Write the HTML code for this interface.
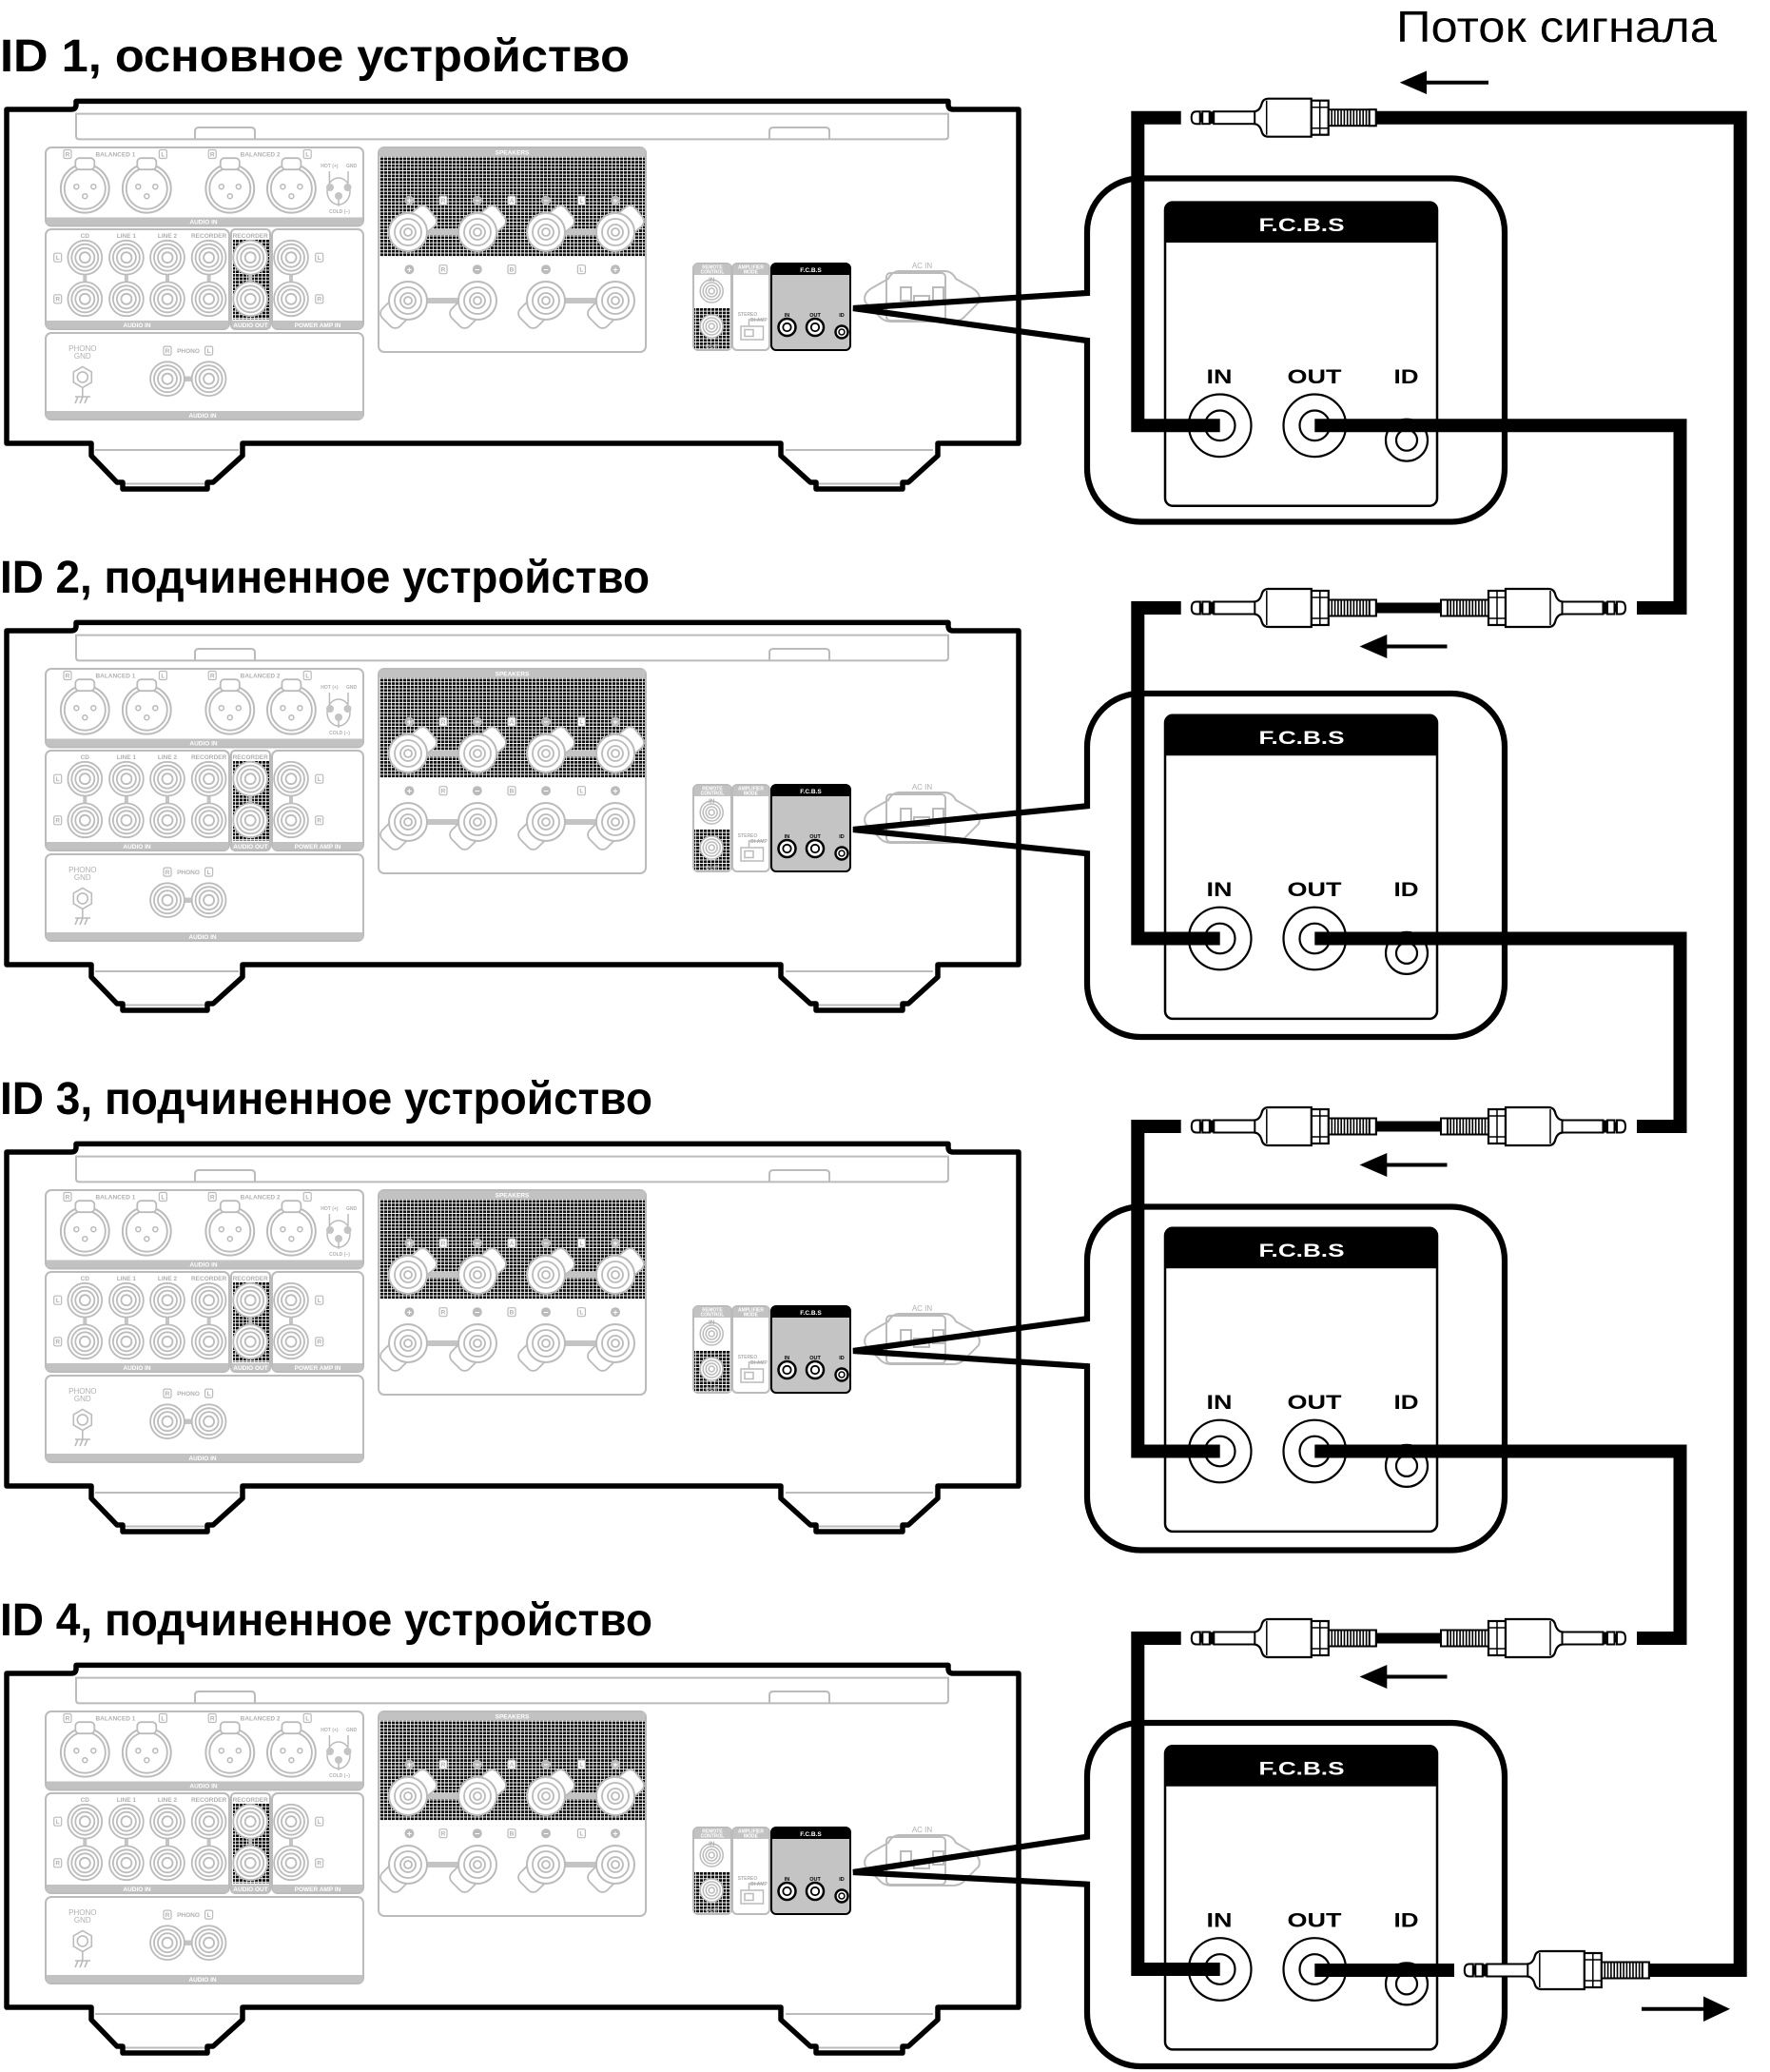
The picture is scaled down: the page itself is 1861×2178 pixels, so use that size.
<!DOCTYPE html>
<html><head><meta charset="utf-8"><style>
html,body{margin:0;padding:0;background:#fff}
svg{display:block}
text{font-family:"Liberation Sans","DejaVu Sans",sans-serif}
.sl text{font-size:6.5px;font-weight:bold;fill:#b0b0b0;text-anchor:middle}
.sl .xs{font-size:5px}
.sl .wh{fill:#fff}
.sl .rg{font-weight:normal;font-size:8px}
.sl .bk{fill:#000;font-size:5.5px}
.sl .pm{fill:#fff;font-size:9px}
.fc{font-size:19.6px;font-weight:bold;fill:#fff}
.lab{font-size:21px;font-weight:bold;fill:#000}
.ttl{font-size:48px;font-weight:bold;fill:#000}
</style></head><body>
<svg width="1861" height="2178" viewBox="0 0 1861 2178" xmlns="http://www.w3.org/2000/svg">
<defs>
<pattern id="gr" width="4" height="3.6" patternUnits="userSpaceOnUse"><rect width="4" height="3.6" fill="#fff"/><rect width="3.2" height="2.7" fill="#111"/></pattern>
<g id="xlr"><circle r="25.4" fill="#fff" stroke="#bbb" stroke-width="2"/><circle r="21.5" fill="none" stroke="#bbb" stroke-width="1.8"/><rect x="-10" y="-32" width="20" height="12" rx="4" fill="#fff" stroke="#bbb" stroke-width="1.8"/><g fill="none" stroke="#bbb" stroke-width="1.5"><circle cx="-9" cy="-2" r="2.5"/><circle cx="9" cy="-2" r="2.5"/><circle cx="0" cy="8" r="2.5"/></g></g>
<g id="rca" fill="none" stroke="#bbb" stroke-width="1.8"><circle r="17.9" fill="#fff"/><circle r="14"/><circle r="10"/><circle r="5.5"/></g>
<g id="rcas" fill="none" stroke="#bbb" stroke-width="1.5"><circle r="12" fill="#fff"/><circle r="9"/><circle r="6"/><circle r="3"/></g>
<g id="termU"><rect x="-13" y="-13" width="45" height="26" rx="7" transform="rotate(-40)" fill="#fff" stroke="#bbb" stroke-width="1.8"/><circle r="20" fill="#fff" stroke="#bbb" stroke-width="2"/><g fill="none" stroke="#bbb" stroke-width="1.8"><circle r="14"/><circle r="8"/><circle r="4"/></g></g>
<g id="termD"><rect x="-13" y="-13" width="45" height="26" rx="7" transform="rotate(135)" fill="#fff" stroke="#bbb" stroke-width="1.8"/><circle r="20" fill="#fff" stroke="#bbb" stroke-width="2"/><g fill="none" stroke="#bbb" stroke-width="1.8"><circle r="14"/><circle r="8"/><circle r="4"/></g></g>
<g id="lbox"><rect x="-4" y="-4.5" width="8" height="9" rx="1.5" fill="#fff" stroke="#bbb" stroke-width="1.2"/></g>

<g id="amp">
<g fill="none" stroke="#bbb" stroke-width="2">
 <line x1="100" y1="473" x2="251" y2="473"/><line x1="131" y1="508.5" x2="216" y2="508.5"/>
 <line x1="826" y1="473" x2="981" y2="473"/><line x1="860" y1="508.5" x2="947" y2="508.5"/>
 <path d="M80,119.6 H997 V143 Q997,146.4 993.6,146.4 H83.4 Q80,146.4 80,143 Z"/>
 <path d="M205,146.4 V138 Q205,134 209,134 H264 Q268,134 268,138 V146.4"/>
 <path d="M809,146.4 V138 Q809,134 813,134 H868 Q872,134 872,138 V146.4"/>
</g>
<g fill="#fff" stroke="#bbb" stroke-width="2">
 <rect x="48" y="155" width="334" height="82.5" rx="6"/>
 <rect x="48" y="241" width="193" height="105" rx="6"/>
 <rect x="243" y="241" width="41" height="105" rx="4"/>
 <rect x="286" y="241" width="96" height="105" rx="6"/>
 <rect x="48" y="350" width="334" height="91" rx="6"/>
 <rect x="398" y="155" width="281" height="215" rx="6"/>
 <rect x="729" y="277" width="40" height="91" rx="5"/>
 <rect x="770" y="277" width="39" height="91" rx="5"/>
</g>
<g fill="#c2c2c2">
 <rect x="49" y="228.5" width="332" height="8"/>
 <rect x="49" y="337" width="191" height="8"/>
 <rect x="244" y="337" width="39" height="8"/>
 <rect x="287" y="337" width="94" height="8"/>
 <rect x="49" y="432" width="332" height="8"/>
 <rect x="399" y="156" width="279" height="8.5"/>
 <rect x="730" y="278" width="38" height="11"/>
 <rect x="771" y="278" width="37" height="11"/>
</g>
<rect x="399" y="164.5" width="279" height="105.5" fill="url(#gr)"/>
<rect x="245" y="251.5" width="38" height="84" fill="url(#gr)"/>
<rect x="730" y="324" width="38" height="43" fill="url(#gr)"/>
<use href="#xlr" x="89.3" y="198.2"/><use href="#xlr" x="154.3" y="198.2"/><use href="#xlr" x="241.8" y="198.2"/><use href="#xlr" x="306.4" y="198.2"/>
<g fill="none" stroke="#bbb" stroke-width="1.5">
 <ellipse cx="356" cy="201" rx="12" ry="14"/>
 <path d="M346.4,192 V180 M366,192 V180 M356,210 V217"/>
</g>
<g fill="#c4c4c4"><circle cx="347" cy="197" r="4"/><circle cx="365.5" cy="197" r="4"/><circle cx="356" cy="206" r="4"/></g>
<g fill="#c4c4c4">
 <rect x="87.3" y="286" width="4" height="12"/><rect x="130.9" y="286" width="4" height="12"/><rect x="174" y="286" width="4" height="12"/><rect x="217.6" y="286" width="4" height="12"/><rect x="261.2" y="286" width="4" height="12"/><rect x="304" y="286" width="4" height="12"/>
 <rect x="176" y="395.5" width="43.6" height="5.5"/>
</g>
<use href="#rca" x="89.3" y="270.7"/><use href="#rca" x="89.3" y="314.3"/>
<use href="#rca" x="132.9" y="270.7"/><use href="#rca" x="132.9" y="314.3"/>
<use href="#rca" x="176" y="270.7"/><use href="#rca" x="176" y="314.3"/>
<use href="#rca" x="219.6" y="270.7"/><use href="#rca" x="219.6" y="314.3"/>
<use href="#rca" x="263.2" y="270.7"/><use href="#rca" x="263.2" y="314.3"/>
<use href="#rca" x="306" y="270.7"/><use href="#rca" x="306" y="314.3"/>
<use href="#rca" x="176" y="398.2"/><use href="#rca" x="219.6" y="398.2"/>
<g fill="none" stroke="#bbb" stroke-width="1.6">
 <polygon points="86.8,385.4 96.3,390.9 96.3,401.9 86.8,407.4 77.3,401.9 77.3,390.9" fill="#fff"/>
 <circle cx="86.8" cy="396.4" r="5.5"/>
 <path d="M86.8,407.4 V417 M79,417 H95 M82,417 L79,424 M87,417 L84,424 M92,417 L89,424"/>
</g>
<g fill="#c4c4c4"><rect x="429" y="241" width="73" height="6"/><rect x="574" y="241" width="73" height="6"/><rect x="429" y="313" width="73" height="6"/><rect x="574" y="313" width="73" height="6"/></g>
<use href="#termU" x="429" y="244"/><use href="#termU" x="502" y="244"/><use href="#termU" x="574" y="244"/><use href="#termU" x="647" y="244"/>
<use href="#termD" x="429" y="316"/><use href="#termD" x="502" y="316"/><use href="#termD" x="574" y="316"/><use href="#termD" x="647" y="316"/>
<g fill="#bbb"><circle cx="430.4" cy="210.7" r="5"/><circle cx="501.8" cy="210.7" r="5"/><circle cx="574" cy="210.7" r="5"/><circle cx="647" cy="210.7" r="5"/><circle cx="430.4" cy="283.2" r="5"/><circle cx="501.8" cy="283.2" r="5"/><circle cx="574" cy="283.2" r="5"/><circle cx="647" cy="283.2" r="5"/></g>
<use href="#lbox" x="71" y="162"/><use href="#lbox" x="171.4" y="162"/><use href="#lbox" x="223.2" y="162"/><use href="#lbox" x="323.2" y="162"/>
<use href="#lbox" x="60.7" y="270.7"/><use href="#lbox" x="60.7" y="314.3"/><use href="#lbox" x="335.7" y="270.7"/><use href="#lbox" x="335.7" y="314.3"/>
<use href="#lbox" x="176" y="368.6"/><use href="#lbox" x="219.6" y="368.6"/>
<use href="#lbox" x="466" y="210.7"/><use href="#lbox" x="538" y="210.7"/><use href="#lbox" x="611.4" y="210.7"/>
<use href="#lbox" x="466" y="283.2"/><use href="#lbox" x="538" y="283.2"/><use href="#lbox" x="611.4" y="283.2"/>
<use href="#rcas" x="748.2" y="306"/><use href="#rcas" x="748.2" y="343"/>
<g fill="none" stroke="#bbb" stroke-width="1.5"><rect x="779" y="343" width="23.5" height="14" fill="#fff"/><rect x="783" y="346.5" width="9" height="7"/><path d="M787.5,343 V336 H803"/></g>
<rect x="811" y="277" width="83" height="91" rx="5" fill="#c4c4c4" stroke="#000" stroke-width="2"/>
<path d="M811,289 V282 Q811,277 816,277 H889 Q894,277 894,282 V289 Z" fill="#000"/>
<g fill="#fff" stroke="#000"><circle cx="827.5" cy="344" r="9" stroke-width="2.5"/><circle cx="827.5" cy="344" r="4.2" stroke-width="1.8"/><circle cx="857" cy="344" r="9" stroke-width="2.5"/><circle cx="857" cy="344" r="4.2" stroke-width="1.8"/><circle cx="885" cy="349" r="6.5" stroke-width="2.4"/><circle cx="885" cy="349" r="3" stroke-width="1.5"/></g>
<g fill="none" stroke="#bbb" stroke-width="2">
 <path d="M910,318 Q906,308 920,301 L934,293 Q938,285 946,285 H993 Q1001,285 1005,293 L1019,301 Q1033,308 1029,318 L1015,332 Q1010,338 1002,338 H937 Q929,338 924,332 Z" fill="#fff"/>
 <rect x="932" y="287" width="62" height="50" rx="4"/>
 <rect x="947" y="302" width="11" height="14"/><rect x="981" y="302" width="11" height="14"/><rect x="961" y="311" width="16" height="9"/>
</g>
<path d="M7,466 V115 H75 Q80,115 80,110 V106.4 H997 V110 Q997,115 1002,115 H1071 V466 H986 V479 L955,507 H949 V514 H858 V507 H852 L821,479 V466 H255 V479 L224,507 H218 V514 H129 V507 H123 L96,479 V466 Z" fill="none" stroke="#000" stroke-width="5.5" stroke-linejoin="round"/>
</g>

<g id="plug">
 <rect x="144" y="-8.5" width="50" height="17" fill="#fff" stroke="#000" stroke-width="2"/>
 <path d="M147.5,-8.5V8.5M150.8,-8.5V8.5M154.1,-8.5V8.5M157.4,-8.5V8.5M160.7,-8.5V8.5M164,-8.5V8.5M167.3,-8.5V8.5M170.6,-8.5V8.5M173.9,-8.5V8.5M177.2,-8.5V8.5M180.5,-8.5V8.5M183.8,-8.5V8.5" stroke="#000" stroke-width="1.6"/>
 <rect x="187" y="-8.5" width="7" height="17" fill="#fff" stroke="#000" stroke-width="2"/>
 <rect x="126" y="-18" width="18" height="36" fill="#fff" stroke="#000" stroke-width="2.2"/>
 <path d="M135,-18V18M126,-11H144M126,11H144" stroke="#000" stroke-width="1.5"/>
 <path d="M66,-6.5 Q72,-7 74,-15 Q75.5,-20 81,-20 L126,-20 L126,20 L81,20 Q75.5,20 74,15 Q72,7 66,6.5 Z" fill="#fff" stroke="#000" stroke-width="2.2"/>
 <path d="M79,-18V18" stroke="#000" stroke-width="1.5"/>
 <rect x="23.5" y="-6.5" width="43" height="13" fill="#fff" stroke="#000" stroke-width="2"/>
 <rect x="19" y="-6.5" width="4.5" height="13" fill="#000"/>
 <rect x="11.5" y="-6.5" width="7.5" height="13" fill="#fff" stroke="#000" stroke-width="2"/>
 <rect x="8.5" y="-4.5" width="3" height="9" fill="#000"/>
 <path d="M9,-6.5 L5,-6.5 Q0,-6.5 0,0 Q0,6.5 5,6.5 L9,6.5 Z" fill="#fff" stroke="#000" stroke-width="2"/>
</g>
</defs>

<!-- amplifiers -->
<use href="#amp"/>
<use href="#amp" y="548"/>
<use href="#amp" y="1096"/>
<use href="#amp" y="1644"/>

<!-- amp labels unit 1..4 -->
<g class="sl" transform="translate(0,0)">
<text x="121.4" y="164.5">BALANCED 1</text><text x="273.6" y="164.5">BALANCED 2</text>
<text x="346.4" y="176" class="xs">HOT (+)</text><text x="369.6" y="176" class="xs">GND</text><text x="357" y="224" class="xs">COLD (−)</text>
<text x="214" y="235.3" class="wh">AUDIO IN</text>
<text x="89.3" y="250">CD</text><text x="132.9" y="250">LINE 1</text><text x="176" y="250">LINE 2</text><text x="219.6" y="250">RECORDER</text><text x="263.2" y="250">RECORDER</text>
<text x="144" y="343.8" class="wh">AUDIO IN</text><text x="263.5" y="343.8" class="wh">AUDIO OUT</text><text x="334" y="343.8" class="wh">POWER AMP IN</text>
<text x="213" y="438.8" class="wh">AUDIO IN</text>
<text x="86.8" y="369" class="rg">PHONO</text><text x="86.8" y="377" class="rg">GND</text><text x="198" y="371">PHONO</text>
<text x="538.5" y="162.5" class="wh">SPEAKERS</text>
<text x="749" y="282.5" class="wh xs">REMOTE</text><text x="749" y="287.5" class="wh xs">CONTROL</text>
<text x="789.5" y="282.5" class="wh xs">AMPLIFIER</text><text x="789.5" y="287.5" class="wh xs">MODE</text>
<text x="748.2" y="296">IN</text><text x="748.2" y="366">OUT</text>
<text x="786" y="332" class="xs">STEREO</text><text x="798" y="338" class="xs">BI-AMP</text>
<text x="852.5" y="286" class="wh">F.C.B.S</text>
<text x="827.5" y="333" class="bk">IN</text><text x="857" y="333" class="bk">OUT</text><text x="885" y="333" class="bk">ID</text>
<text x="969.5" y="282" class="rg">AC IN</text>
<text x="71" y="164.5">R</text><text x="171.4" y="164.5">L</text><text x="223.2" y="164.5">R</text><text x="323.2" y="164.5">L</text>
<text x="60.7" y="273">L</text><text x="60.7" y="316.6">R</text><text x="335.7" y="273">L</text><text x="335.7" y="316.6">R</text>
<text x="176" y="371">R</text><text x="219.6" y="371">L</text>
<text x="466" y="213">R</text><text x="538" y="213">A</text><text x="611.4" y="213">L</text>
<text x="466" y="285.5">R</text><text x="538" y="285.5">B</text><text x="611.4" y="285.5">L</text>
<text x="430.4" y="213.8" class="pm">+</text><text x="501.8" y="213.8" class="pm">−</text><text x="574" y="213.8" class="pm">−</text><text x="647" y="213.8" class="pm">+</text>
<text x="430.4" y="286.3" class="pm">+</text><text x="501.8" y="286.3" class="pm">−</text><text x="574" y="286.3" class="pm">−</text><text x="647" y="286.3" class="pm">+</text>
</g>
<g class="sl" transform="translate(0,548)">
<text x="121.4" y="164.5">BALANCED 1</text><text x="273.6" y="164.5">BALANCED 2</text>
<text x="346.4" y="176" class="xs">HOT (+)</text><text x="369.6" y="176" class="xs">GND</text><text x="357" y="224" class="xs">COLD (−)</text>
<text x="214" y="235.3" class="wh">AUDIO IN</text>
<text x="89.3" y="250">CD</text><text x="132.9" y="250">LINE 1</text><text x="176" y="250">LINE 2</text><text x="219.6" y="250">RECORDER</text><text x="263.2" y="250">RECORDER</text>
<text x="144" y="343.8" class="wh">AUDIO IN</text><text x="263.5" y="343.8" class="wh">AUDIO OUT</text><text x="334" y="343.8" class="wh">POWER AMP IN</text>
<text x="213" y="438.8" class="wh">AUDIO IN</text>
<text x="86.8" y="369" class="rg">PHONO</text><text x="86.8" y="377" class="rg">GND</text><text x="198" y="371">PHONO</text>
<text x="538.5" y="162.5" class="wh">SPEAKERS</text>
<text x="749" y="282.5" class="wh xs">REMOTE</text><text x="749" y="287.5" class="wh xs">CONTROL</text>
<text x="789.5" y="282.5" class="wh xs">AMPLIFIER</text><text x="789.5" y="287.5" class="wh xs">MODE</text>
<text x="748.2" y="296">IN</text><text x="748.2" y="366">OUT</text>
<text x="786" y="332" class="xs">STEREO</text><text x="798" y="338" class="xs">BI-AMP</text>
<text x="852.5" y="286" class="wh">F.C.B.S</text>
<text x="827.5" y="333" class="bk">IN</text><text x="857" y="333" class="bk">OUT</text><text x="885" y="333" class="bk">ID</text>
<text x="969.5" y="282" class="rg">AC IN</text>
<text x="71" y="164.5">R</text><text x="171.4" y="164.5">L</text><text x="223.2" y="164.5">R</text><text x="323.2" y="164.5">L</text>
<text x="60.7" y="273">L</text><text x="60.7" y="316.6">R</text><text x="335.7" y="273">L</text><text x="335.7" y="316.6">R</text>
<text x="176" y="371">R</text><text x="219.6" y="371">L</text>
<text x="466" y="213">R</text><text x="538" y="213">A</text><text x="611.4" y="213">L</text>
<text x="466" y="285.5">R</text><text x="538" y="285.5">B</text><text x="611.4" y="285.5">L</text>
<text x="430.4" y="213.8" class="pm">+</text><text x="501.8" y="213.8" class="pm">−</text><text x="574" y="213.8" class="pm">−</text><text x="647" y="213.8" class="pm">+</text>
<text x="430.4" y="286.3" class="pm">+</text><text x="501.8" y="286.3" class="pm">−</text><text x="574" y="286.3" class="pm">−</text><text x="647" y="286.3" class="pm">+</text>
</g>
<g class="sl" transform="translate(0,1096)">
<text x="121.4" y="164.5">BALANCED 1</text><text x="273.6" y="164.5">BALANCED 2</text>
<text x="346.4" y="176" class="xs">HOT (+)</text><text x="369.6" y="176" class="xs">GND</text><text x="357" y="224" class="xs">COLD (−)</text>
<text x="214" y="235.3" class="wh">AUDIO IN</text>
<text x="89.3" y="250">CD</text><text x="132.9" y="250">LINE 1</text><text x="176" y="250">LINE 2</text><text x="219.6" y="250">RECORDER</text><text x="263.2" y="250">RECORDER</text>
<text x="144" y="343.8" class="wh">AUDIO IN</text><text x="263.5" y="343.8" class="wh">AUDIO OUT</text><text x="334" y="343.8" class="wh">POWER AMP IN</text>
<text x="213" y="438.8" class="wh">AUDIO IN</text>
<text x="86.8" y="369" class="rg">PHONO</text><text x="86.8" y="377" class="rg">GND</text><text x="198" y="371">PHONO</text>
<text x="538.5" y="162.5" class="wh">SPEAKERS</text>
<text x="749" y="282.5" class="wh xs">REMOTE</text><text x="749" y="287.5" class="wh xs">CONTROL</text>
<text x="789.5" y="282.5" class="wh xs">AMPLIFIER</text><text x="789.5" y="287.5" class="wh xs">MODE</text>
<text x="748.2" y="296">IN</text><text x="748.2" y="366">OUT</text>
<text x="786" y="332" class="xs">STEREO</text><text x="798" y="338" class="xs">BI-AMP</text>
<text x="852.5" y="286" class="wh">F.C.B.S</text>
<text x="827.5" y="333" class="bk">IN</text><text x="857" y="333" class="bk">OUT</text><text x="885" y="333" class="bk">ID</text>
<text x="969.5" y="282" class="rg">AC IN</text>
<text x="71" y="164.5">R</text><text x="171.4" y="164.5">L</text><text x="223.2" y="164.5">R</text><text x="323.2" y="164.5">L</text>
<text x="60.7" y="273">L</text><text x="60.7" y="316.6">R</text><text x="335.7" y="273">L</text><text x="335.7" y="316.6">R</text>
<text x="176" y="371">R</text><text x="219.6" y="371">L</text>
<text x="466" y="213">R</text><text x="538" y="213">A</text><text x="611.4" y="213">L</text>
<text x="466" y="285.5">R</text><text x="538" y="285.5">B</text><text x="611.4" y="285.5">L</text>
<text x="430.4" y="213.8" class="pm">+</text><text x="501.8" y="213.8" class="pm">−</text><text x="574" y="213.8" class="pm">−</text><text x="647" y="213.8" class="pm">+</text>
<text x="430.4" y="286.3" class="pm">+</text><text x="501.8" y="286.3" class="pm">−</text><text x="574" y="286.3" class="pm">−</text><text x="647" y="286.3" class="pm">+</text>
</g>
<g class="sl" transform="translate(0,1644)">
<text x="121.4" y="164.5">BALANCED 1</text><text x="273.6" y="164.5">BALANCED 2</text>
<text x="346.4" y="176" class="xs">HOT (+)</text><text x="369.6" y="176" class="xs">GND</text><text x="357" y="224" class="xs">COLD (−)</text>
<text x="214" y="235.3" class="wh">AUDIO IN</text>
<text x="89.3" y="250">CD</text><text x="132.9" y="250">LINE 1</text><text x="176" y="250">LINE 2</text><text x="219.6" y="250">RECORDER</text><text x="263.2" y="250">RECORDER</text>
<text x="144" y="343.8" class="wh">AUDIO IN</text><text x="263.5" y="343.8" class="wh">AUDIO OUT</text><text x="334" y="343.8" class="wh">POWER AMP IN</text>
<text x="213" y="438.8" class="wh">AUDIO IN</text>
<text x="86.8" y="369" class="rg">PHONO</text><text x="86.8" y="377" class="rg">GND</text><text x="198" y="371">PHONO</text>
<text x="538.5" y="162.5" class="wh">SPEAKERS</text>
<text x="749" y="282.5" class="wh xs">REMOTE</text><text x="749" y="287.5" class="wh xs">CONTROL</text>
<text x="789.5" y="282.5" class="wh xs">AMPLIFIER</text><text x="789.5" y="287.5" class="wh xs">MODE</text>
<text x="748.2" y="296">IN</text><text x="748.2" y="366">OUT</text>
<text x="786" y="332" class="xs">STEREO</text><text x="798" y="338" class="xs">BI-AMP</text>
<text x="852.5" y="286" class="wh">F.C.B.S</text>
<text x="827.5" y="333" class="bk">IN</text><text x="857" y="333" class="bk">OUT</text><text x="885" y="333" class="bk">ID</text>
<text x="969.5" y="282" class="rg">AC IN</text>
<text x="71" y="164.5">R</text><text x="171.4" y="164.5">L</text><text x="223.2" y="164.5">R</text><text x="323.2" y="164.5">L</text>
<text x="60.7" y="273">L</text><text x="60.7" y="316.6">R</text><text x="335.7" y="273">L</text><text x="335.7" y="316.6">R</text>
<text x="176" y="371">R</text><text x="219.6" y="371">L</text>
<text x="466" y="213">R</text><text x="538" y="213">A</text><text x="611.4" y="213">L</text>
<text x="466" y="285.5">R</text><text x="538" y="285.5">B</text><text x="611.4" y="285.5">L</text>
<text x="430.4" y="213.8" class="pm">+</text><text x="501.8" y="213.8" class="pm">−</text><text x="574" y="213.8" class="pm">−</text><text x="647" y="213.8" class="pm">+</text>
<text x="430.4" y="286.3" class="pm">+</text><text x="501.8" y="286.3" class="pm">−</text><text x="574" y="286.3" class="pm">−</text><text x="647" y="286.3" class="pm">+</text>
</g>

<!-- callout outlines with lead lines -->
<g fill="none" stroke="#000" stroke-width="6.2" stroke-linejoin="miter">
<path d="M897,324 L1143,308 V243.5 A56,56 0 0 1 1199,187.5 H1526 A56,56 0 0 1 1582,243.5 V492.5 A56,56 0 0 1 1526,548.5 H1199 A56,56 0 0 1 1143,492.5 V358 Z"/>
<path d="M897,872 L1143,847.2 V785 A56,56 0 0 1 1199,729 H1526 A56,56 0 0 1 1582,785 V1034 A56,56 0 0 1 1526,1090 H1199 A56,56 0 0 1 1143,1034 V897.2 Z"/>
<path d="M897,1420 L1143,1386.2 V1324.5 A56,56 0 0 1 1199,1268.5 H1526 A56,56 0 0 1 1582,1324.5 V1573.5 A56,56 0 0 1 1526,1629.5 H1199 A56,56 0 0 1 1143,1573.5 V1436.2 Z"/>
<path d="M897,1968 L1143,1930.7 V1867 A56,56 0 0 1 1199,1811 H1526 A56,56 0 0 1 1582,1867 V2116 A56,56 0 0 1 1526,2172 H1199 A56,56 0 0 1 1143,2116 V1980.7 Z"/>
</g>

<!-- magnified F.C.B.S panels -->
<g transform="translate(0,0)">
<rect x="1225" y="212.6" width="286" height="319.1" rx="8" fill="#fff" stroke="#000" stroke-width="2.5"/>
<path d="M1225,255 V220.6 Q1225,212.6 1233,212.6 H1503 Q1511,212.6 1511,220.6 V255 Z" fill="#000"/>
<text class="fc" x="1323.5" y="243" textLength="90" lengthAdjust="spacingAndGlyphs">F.C.B.S</text>
<text class="lab" x="1268.5" y="403" textLength="27" lengthAdjust="spacingAndGlyphs">IN</text>
<text class="lab" x="1353.5" y="403" textLength="57" lengthAdjust="spacingAndGlyphs">OUT</text>
<text class="lab" x="1465.5" y="403" textLength="26" lengthAdjust="spacingAndGlyphs">ID</text>
<g fill="none" stroke="#000" stroke-width="2.2"><circle cx="1282.7" cy="447.3" r="32.8"/><circle cx="1282.7" cy="447.3" r="15.8"/><circle cx="1382.3" cy="447.3" r="32.8"/><circle cx="1382.3" cy="447.3" r="15.8"/><circle cx="1479" cy="462.7" r="22"/><circle cx="1479" cy="462.7" r="11"/></g>
</g>
<g transform="translate(0,539.2)">
<rect x="1225" y="212.6" width="286" height="319.1" rx="8" fill="#fff" stroke="#000" stroke-width="2.5"/>
<path d="M1225,255 V220.6 Q1225,212.6 1233,212.6 H1503 Q1511,212.6 1511,220.6 V255 Z" fill="#000"/>
<text class="fc" x="1323.5" y="243" textLength="90" lengthAdjust="spacingAndGlyphs">F.C.B.S</text>
<text class="lab" x="1268.5" y="403" textLength="27" lengthAdjust="spacingAndGlyphs">IN</text>
<text class="lab" x="1353.5" y="403" textLength="57" lengthAdjust="spacingAndGlyphs">OUT</text>
<text class="lab" x="1465.5" y="403" textLength="26" lengthAdjust="spacingAndGlyphs">ID</text>
<g fill="none" stroke="#000" stroke-width="2.2"><circle cx="1282.7" cy="447.3" r="32.8"/><circle cx="1282.7" cy="447.3" r="15.8"/><circle cx="1382.3" cy="447.3" r="32.8"/><circle cx="1382.3" cy="447.3" r="15.8"/><circle cx="1479" cy="462.7" r="22"/><circle cx="1479" cy="462.7" r="11"/></g>
</g>
<g transform="translate(0,1078.2)">
<rect x="1225" y="212.6" width="286" height="319.1" rx="8" fill="#fff" stroke="#000" stroke-width="2.5"/>
<path d="M1225,255 V220.6 Q1225,212.6 1233,212.6 H1503 Q1511,212.6 1511,220.6 V255 Z" fill="#000"/>
<text class="fc" x="1323.5" y="243" textLength="90" lengthAdjust="spacingAndGlyphs">F.C.B.S</text>
<text class="lab" x="1268.5" y="403" textLength="27" lengthAdjust="spacingAndGlyphs">IN</text>
<text class="lab" x="1353.5" y="403" textLength="57" lengthAdjust="spacingAndGlyphs">OUT</text>
<text class="lab" x="1465.5" y="403" textLength="26" lengthAdjust="spacingAndGlyphs">ID</text>
<g fill="none" stroke="#000" stroke-width="2.2"><circle cx="1282.7" cy="447.3" r="32.8"/><circle cx="1282.7" cy="447.3" r="15.8"/><circle cx="1382.3" cy="447.3" r="32.8"/><circle cx="1382.3" cy="447.3" r="15.8"/><circle cx="1479" cy="462.7" r="22"/><circle cx="1479" cy="462.7" r="11"/></g>
</g>
<g transform="translate(0,1622.7)">
<rect x="1225" y="212.6" width="286" height="319.1" rx="8" fill="#fff" stroke="#000" stroke-width="2.5"/>
<path d="M1225,255 V220.6 Q1225,212.6 1233,212.6 H1503 Q1511,212.6 1511,220.6 V255 Z" fill="#000"/>
<text class="fc" x="1323.5" y="243" textLength="90" lengthAdjust="spacingAndGlyphs">F.C.B.S</text>
<text class="lab" x="1268.5" y="403" textLength="27" lengthAdjust="spacingAndGlyphs">IN</text>
<text class="lab" x="1353.5" y="403" textLength="57" lengthAdjust="spacingAndGlyphs">OUT</text>
<text class="lab" x="1465.5" y="403" textLength="26" lengthAdjust="spacingAndGlyphs">ID</text>
<g fill="none" stroke="#000" stroke-width="2.2"><circle cx="1282.7" cy="447.3" r="32.8"/><circle cx="1282.7" cy="447.3" r="15.8"/><circle cx="1382.3" cy="447.3" r="32.8"/><circle cx="1382.3" cy="447.3" r="15.8"/><circle cx="1479" cy="462.7" r="22"/><circle cx="1479" cy="462.7" r="11"/></g>
</g>

<!-- cables -->
<g fill="none" stroke="#000" stroke-width="14" stroke-linejoin="miter" stroke-linecap="butt">
<path d="M1241.7,123.7 H1196.3 V447.3 H1282.7"/>
<path d="M1241.7,639 H1196.3 V986.5 H1282.7"/>
<path d="M1241.7,1184 H1196.3 V1525.5 H1282.7"/>
<path d="M1241.7,1722 H1196.3 V2070 H1282.7"/>
<path d="M1382.3,447.3 H1766.5 V639 H1721"/>
<path d="M1382.3,986.5 H1766.5 V1184 H1721"/>
<path d="M1382.3,1525.5 H1766.5 V1722 H1721"/>
<path d="M1382.3,2071 H1529"/>
<path d="M1440,123.7 H1829.7 V2071 H1725"/>
</g>
<g stroke="#000" stroke-width="11">
<path d="M1440,639 H1522 M1440,1184 H1522 M1440,1722 H1522"/>
</g>

<!-- plugs -->
<use href="#plug" transform="translate(1252.7,123.7)"/>
<use href="#plug" transform="translate(1252.8,639)"/>
<use href="#plug" transform="translate(1709,639) scale(-1,1)"/>
<use href="#plug" transform="translate(1252.8,1184)"/>
<use href="#plug" transform="translate(1709,1184) scale(-1,1)"/>
<use href="#plug" transform="translate(1252.8,1722)"/>
<use href="#plug" transform="translate(1709,1722) scale(-1,1)"/>
<use href="#plug" transform="translate(1539.8,2071)"/>

<!-- arrows -->
<g fill="#000" stroke="#000" stroke-width="4">
<path d="M1471.7,86.7 L1500,74.5 L1500,99 Z" stroke="none"/><line x1="1498" y1="86.7" x2="1565" y2="86.7"/>
<path d="M1429.5,679.5 L1458.3,667 L1458.3,692 Z" stroke="none"/><line x1="1456" y1="679.5" x2="1521.5" y2="679.5"/>
<path d="M1429.5,1224.5 L1458.3,1212 L1458.3,1237 Z" stroke="none"/><line x1="1456" y1="1224.5" x2="1521.5" y2="1224.5"/>
<path d="M1429.5,1762.5 L1458.3,1750 L1458.3,1775 Z" stroke="none"/><line x1="1456" y1="1762.5" x2="1521.5" y2="1762.5"/>
<path d="M1819,2111.8 L1791,2098.5 L1791,2125 Z" stroke="none"/><line x1="1726" y1="2111.8" x2="1793" y2="2111.8"/>
</g>

<!-- titles -->
<text class="ttl" x="0" y="75" textLength="662" lengthAdjust="spacingAndGlyphs">ID 1, основное устройство</text>
<text class="ttl" x="0" y="623" textLength="683" lengthAdjust="spacingAndGlyphs">ID 2, подчиненное устройство</text>
<text class="ttl" x="0" y="1171" textLength="686" lengthAdjust="spacingAndGlyphs">ID 3, подчиненное устройство</text>
<text class="ttl" x="0" y="1719" textLength="686" lengthAdjust="spacingAndGlyphs">ID 4, подчиненное устройство</text>
<text x="1468" y="44" font-size="46" fill="#000" textLength="337" lengthAdjust="spacingAndGlyphs">Поток сигнала</text>
</svg>
</body></html>
